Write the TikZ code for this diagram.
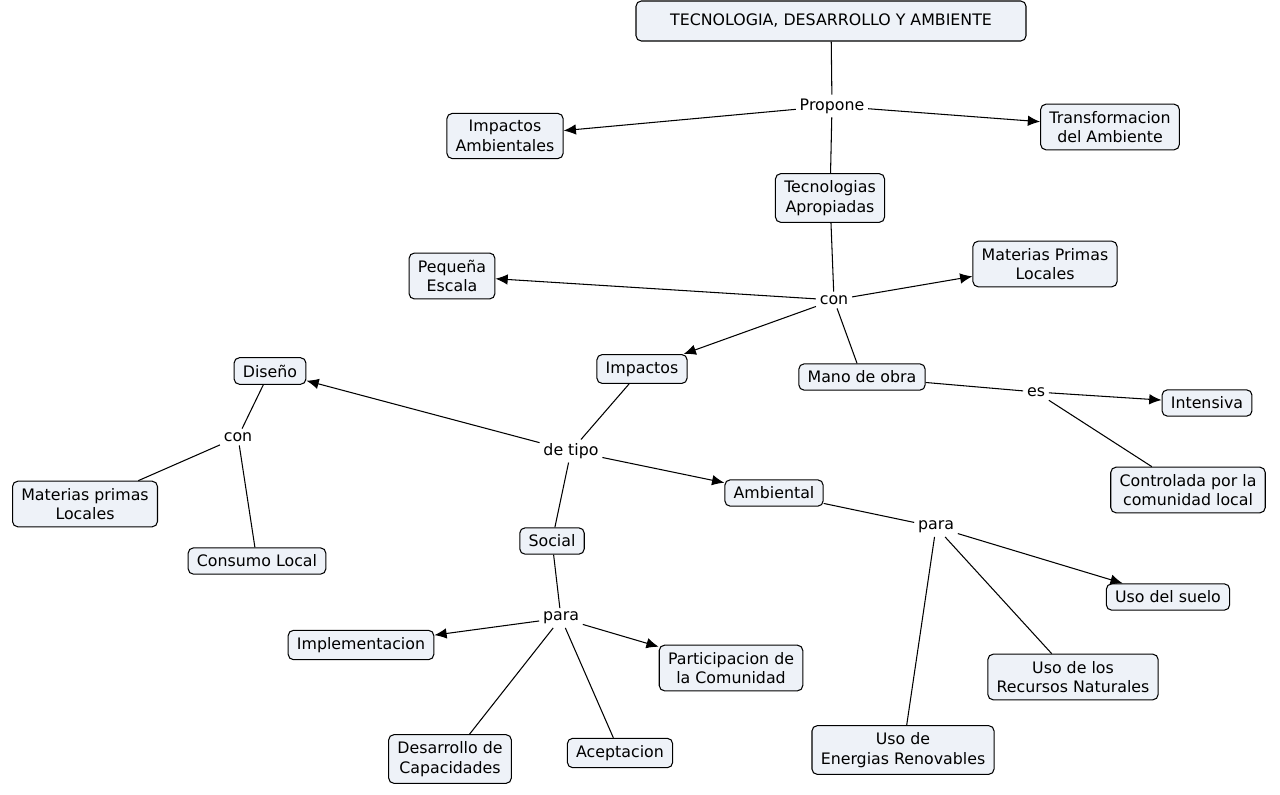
\documentclass[tikz,border=0pt]{standalone}
\usepackage{fontspec}
\setmainfont{DejaVu Sans}
\usetikzlibrary{arrows.meta}
\definecolor{cfill}{HTML}{EEF2F8}
\begin{document}
\begin{tikzpicture}[x=0.02cm,y=-0.02cm,
  c/.style={draw=black,fill=cfill,rounded corners=3pt,align=center,font=\fontsize{9}{11}\selectfont,inner xsep=5pt,inner ysep=4pt,line width=0.6pt},
  l/.style={font=\fontsize{9}{11}\selectfont,inner sep=2pt},
  a/.style={-{Latex[length=7pt,width=6pt]},line width=0.6pt},
  n/.style={line width=0.6pt}]
\useasboundingbox (0,0) rectangle (1280,794);
\node[c,minimum width=390*0.02cm,minimum height=40*0.02cm] (t) at (831,21) {TECNOLOGIA, DESARROLLO Y AMBIENTE};
\node[l] (prop) at (832,106) {Propone};
\node[c] (ia) at (505,136) {Impactos\\Ambientales};
\node[c] (tr) at (1110,127) {Transformacion\\del Ambiente};
\node[c] (ta) at (830,198) {Tecnologias\\Apropiadas};
\node[l] (con) at (834,300) {con};
\node[c] (pe) at (452,276) {Pequeña\\Escala};
\node[c] (mp) at (1045,264) {Materias Primas\\Locales};
\node[c] (im) at (642,369) {Impactos};
\node[c] (mo) at (862,377) {Mano de obra};
\node[l] (es) at (1036,392) {es};
\node[c] (in) at (1207,403) {Intensiva};
\node[c] (co) at (1188,490) {Controlada por la\\comunidad local};
\node[l] (dt) at (571,451) {de tipo};
\node[c] (di) at (270,371) {Diseño};
\node[l] (con2) at (238,437) {con};
\node[c] (mpl) at (85,504) {Materias primas\\Locales};
\node[c] (cl) at (257,561) {Consumo Local};
\node[c] (am) at (774,493) {Ambiental};
\node[c] (so) at (552,541) {Social};
\node[l] (pa1) at (936,527) {para};
\node[c] (us) at (1168,597) {Uso del suelo};
\node[c] (ur) at (1073,677) {Uso de los\\Recursos Naturales};
\node[c] (ue) at (903,750) {Uso de\\Energias Renovables};
\node[l] (pa2) at (561,618) {para};
\node[c] (ip) at (361,645) {Implementacion};
\node[c] (pc) at (731,668) {Participacion de\\la Comunidad};
\node[c] (dc) at (450,759) {Desarrollo de\\Capacidades};
\node[c] (ac) at (620,753) {Aceptacion};
\draw[n] (t) -- (prop); \draw[n] (prop) -- (ta);
\draw[a] (prop) -- (ia); \draw[a] (prop) -- (tr);
\draw[n] (ta) -- (con);
\draw[a] (con) -- (pe); \draw[a] (con) -- (mp); \draw[a] (con) -- (im);
\draw[n] (con) -- (mo);
\draw[n] (mo) -- (es); \draw[a] (es) -- (in); \draw[n] (es) -- (co);
\draw[n] (im) -- (dt); \draw[a] (dt) -- (di); \draw[a] (dt) -- (am); \draw[n] (dt) -- (so);
\draw[n] (di) -- (con2); \draw[n] (con2) -- (mpl); \draw[n] (con2) -- (cl);
\draw[n] (am) -- (pa1); \draw[a] (pa1) -- (us); \draw[n] (pa1) -- (ur); \draw[n] (pa1) -- (ue);
\draw[n] (so) -- (pa2); \draw[a] (pa2) -- (ip); \draw[a] (pa2) -- (pc); \draw[n] (pa2) -- (dc); \draw[n] (pa2) -- (ac);
\end{tikzpicture}
\end{document}
